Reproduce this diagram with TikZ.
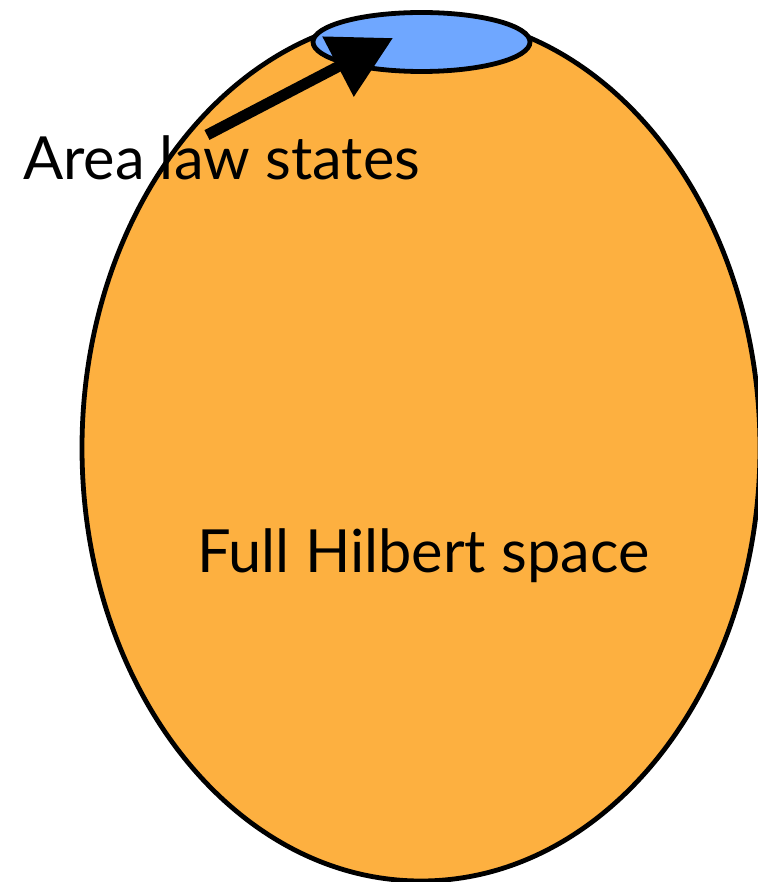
\documentclass[tikz,border=0pt]{standalone}
\usepackage{fontspec}
\setmainfont{Lato}
\usetikzlibrary{arrows.meta}

\definecolor{hilbert}{RGB}{253,176,64}
\definecolor{arealaw}{RGB}{111,167,255}

\begin{document}
\begin{tikzpicture}[x=1pt, y=-1pt]
    % параметры
    \def\W{757}      % ширина картинки
    \def\H{882}      % высота картинки
    \def\L{4.8pt}    % толщина контура
    \def\A{11pt}     % толщина стрелки

    \useasboundingbox (0,0) rectangle (\W,\H);

    % полное пространство
    \draw[line width=\L, fill=hilbert] (421,448) ellipse [x radius=339pt, y radius=433pt];

    % состояния с законом площади
    \draw[line width=\L, fill=arealaw] (421.5,42) ellipse [x radius=108.5pt, y radius=29.5pt];

    % подписи
    \node[anchor=base west, inner sep=0pt, font=\fontsize{59.5}{66}\selectfont] (area) at (23,180) {Area law states};
    \node[anchor=base west, inner sep=0pt, font=\fontsize{59.5}{66}\selectfont] (full) at (197,572) {Full Hilbert space};

    % стрелка
    \coordinate (tail) at (207,135);
    \coordinate (tip) at (393,38);
    \draw[line width=\A, -{Triangle[length=62pt, width=65pt]}] (tail) -- (tip);
\end{tikzpicture}
\end{document}
